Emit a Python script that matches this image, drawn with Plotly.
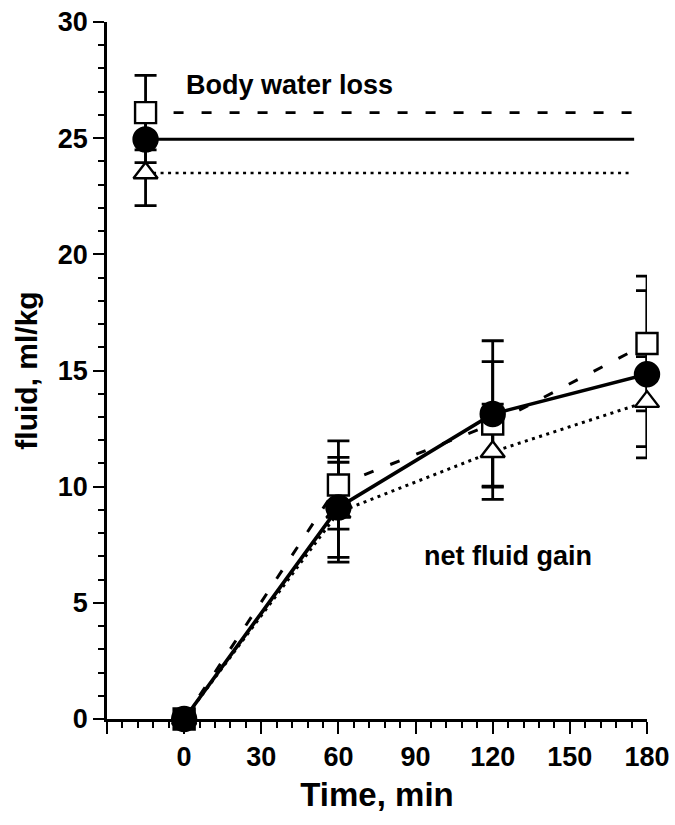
import plotly.graph_objects as go

# Net fluid gain over time (min) for three conditions
time_min = [0, 60, 120, 180]
gain_square = [0.0, 10.07, 12.7, 16.16]
gain_circle = [0.0, 9.11, 13.13, 14.84]
gain_triangle = [0.0, 8.9, 11.5, 13.66]
sd_square = [0.0, 1.9, 2.68, 2.9]
sd_circle = [0.0, 2.15, 3.15, 3.6]
sd_triangle = [0.0, 2.15, 2.05, 1.94]

# Body water loss, plotted left of time zero
loss_time = -15
loss_square = 26.1
loss_circle = 24.95
loss_triangle = 23.5
loss_sd_square = 1.6
loss_sd_circle = 1.0
loss_sd_triangle = 1.4
loss_line_end = {"square": 180, "circle": 175, "triangle": 173}

x_tickvals = [-30, 0, 30, 60, 90, 120, 150, 180]
x_ticktext = ["", "0", "30", "60", "90", "120", "150", "180"]
y_tickvals = [0, 5, 10, 15, 20, 25, 30]

FONT = "Liberation Sans, Arial, sans-serif"
BLACK = "black"

styles = {
    "square": dict(symbol="square", size=21, dash="10px,18px", lw=3.0),
    "triangle": dict(symbol="triangle-up", size=21, dash="3px,4.5px", lw=3.0),
    "circle": dict(symbol="circle", size=24, dash="solid", lw=3.6),
}
series = {
    "square": (gain_square, sd_square, loss_square, loss_sd_square),
    "triangle": (gain_triangle, sd_triangle, loss_triangle, loss_sd_triangle),
    "circle": (gain_circle, sd_circle, loss_circle, loss_sd_circle),
}

fig = go.Figure()

# connecting lines and horizontal body-water-loss lines
for key, (gain, sd, loss, loss_sd) in series.items():
    st = styles[key]
    fig.add_trace(go.Scatter(
        x=time_min, y=gain, mode="lines",
        line=dict(color=BLACK, width=st["lw"], dash=st["dash"]),
        showlegend=False, hoverinfo="skip", cliponaxis=False))
    fig.add_trace(go.Scatter(
        x=[loss_time, loss_line_end[key]], y=[loss, loss], mode="lines",
        line=dict(color=BLACK, width=st["lw"] * 0.85, dash=st["dash"]),
        showlegend=False, hoverinfo="skip", cliponaxis=False))

# error bars underneath all markers
for key, (gain, sd, loss, loss_sd) in series.items():
    fig.add_trace(go.Scatter(
        x=[loss_time] + time_min, y=[loss] + gain, mode="markers",
        marker=dict(color="rgba(0,0,0,0)", size=1),
        error_y=dict(type="data", array=[loss_sd] + sd, visible=True,
                     color=BLACK, thickness=2.8, width=11),
        showlegend=False, hoverinfo="skip", cliponaxis=False))

# markers
for key, (gain, sd, loss, loss_sd) in series.items():
    st = styles[key]
    if key == "circle":
        fill = BLACK
    elif key == "square":
        fill = [BLACK if t == 0 else "white" for t in [loss_time] + time_min]
    else:
        fill = "white"
    fig.add_trace(go.Scatter(
        x=[loss_time] + time_min, y=[loss] + gain, mode="markers",
        marker=dict(symbol=st["symbol"], size=st["size"], color=fill,
                    line=dict(color=BLACK, width=2.4)),
        showlegend=False, hoverinfo="skip", cliponaxis=False))

fig.add_annotation(x=0, y=27.3, text="Body water loss", showarrow=False,
                   xanchor="left", yanchor="middle",
                   font=dict(family=FONT, size=27, color=BLACK, weight="bold"))
fig.add_annotation(x=126, y=7.0, text="net fluid gain", showarrow=False,
                   xanchor="center", yanchor="middle",
                   font=dict(family=FONT, size=27, color=BLACK, weight="bold"))

fig.update_layout(
    width=675, height=825,
    margin=dict(l=107, r=28, t=22, b=106),
    plot_bgcolor="white", paper_bgcolor="white",
    font=dict(family=FONT, color=BLACK),
    xaxis=dict(
        range=[-30, 180], tickmode="array", tickvals=x_tickvals,
        ticktext=x_ticktext, ticks="outside", ticklen=12, tickwidth=2.4,
        tickcolor=BLACK, showline=True, linecolor=BLACK, linewidth=2.8,
        showgrid=False, zeroline=False, automargin=False,
        tickfont=dict(family=FONT, size=27, color=BLACK, weight="bold"),
        minor=dict(tickmode="linear", tick0=0, dtick=6, ticks="outside",
                   ticklen=6, tickwidth=1.8, tickcolor=BLACK, showgrid=False),
        title=dict(text="Time, min", standoff=12,
                   font=dict(family=FONT, size=33, color=BLACK, weight="bold")),
    ),
    yaxis=dict(
        range=[0, 30], tickmode="array", tickvals=y_tickvals,
        ticks="outside", ticklen=11, tickwidth=2.4, tickcolor=BLACK,
        showline=True, linecolor=BLACK, linewidth=2.8,
        showgrid=False, zeroline=False, automargin=False,
        tickfont=dict(family=FONT, size=27, color=BLACK, weight="bold"),
        minor=dict(tickmode="linear", tick0=0, dtick=1, ticks="outside",
                   ticklen=6, tickwidth=1.8, tickcolor=BLACK, showgrid=False),
        title=dict(text="fluid, ml/kg", standoff=12,
                   font=dict(family=FONT, size=30, color=BLACK, weight="bold")),
    ),
)

fig.write_html("out.html")
